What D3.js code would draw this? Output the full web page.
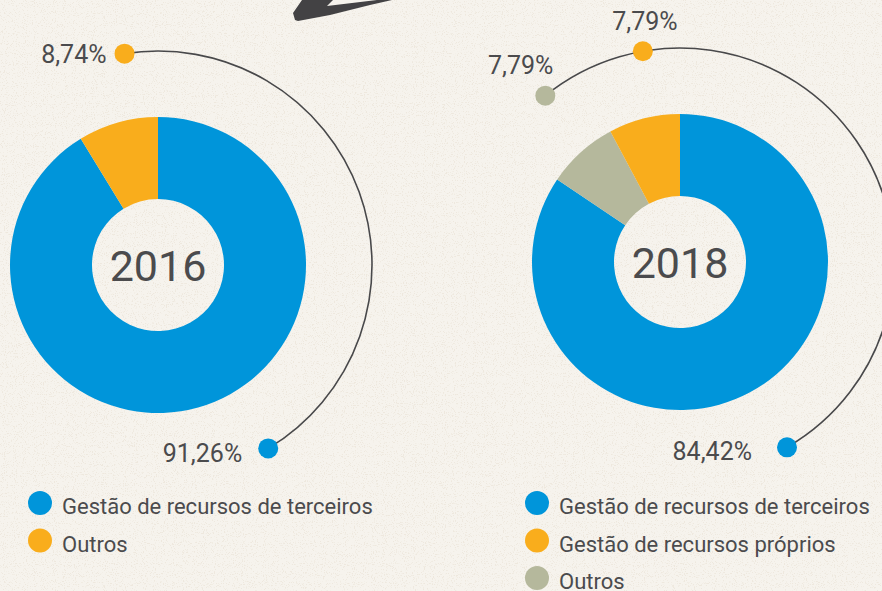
<!DOCTYPE html>
<html lang="pt">
<head>
<meta charset="UTF-8">
<title>Gestão de recursos 2016 / 2018</title>
<script src="https://d3js.org/d3.v7.min.js"></script>
<style>
  html, body { margin: 0; padding: 0; background: #f6f3ed; }
  svg { display: block; font-family: Roboto, "Open Sans", sans-serif; }
</style>
</head>
<body>
<svg id="chart" width="882" height="591"></svg>
<script>
// data
const years = ["2016", "2018"];
const categories2016 = ["Gestão de recursos de terceiros", "Outros"];
const values2016 = [91.26, 8.74];
const categories2018 = ["Gestão de recursos de terceiros", "Gestão de recursos próprios", "Outros"];
const values2018 = [84.42, 7.79, 7.79];
const labels2016 = ["91,26%", "8,74%"];
const labels2018 = ["84,42%", "7,79%", "7,79%"];

const colorOf = {
  "Gestão de recursos de terceiros": "#0095da",
  "Gestão de recursos próprios": "#f9ad1c",
  "Outros2016": "#f9ad1c",
  "Outros2018": "#b5b89c"
};

const svg = d3.select("#chart");
const W = 882, H = 591;
const bg = "#f6f3ed";

// paper texture: sparse brownish specks
const defs = svg.append("defs");
const f = defs.append("filter").attr("id", "paper").attr("x", 0).attr("y", 0).attr("width", "100%").attr("height", "100%");
f.append("feTurbulence").attr("type", "fractalNoise").attr("baseFrequency", 0.9).attr("numOctaves", 2).attr("seed", 7).attr("result", "n");
f.append("feColorMatrix").attr("in", "n").attr("type", "matrix")
  .attr("values", "0 0 0 0 0.6  0 0 0 0 0.5  0 0 0 0 0.35  0 0 0 -8 3.4");
svg.append("rect").attr("width", W).attr("height", H).attr("fill", bg);
svg.append("rect").attr("width", W).attr("height", H).attr("filter", "url(#paper)").attr("opacity", 0.18);

// decorative arrow piece at the top
svg.append("path")
  .attr("d", "M302,0 L293,13 L295,20 L298,21 L330,15 L370,5 L392,0 Z")
  .attr("fill", "#434244");
svg.append("path")
  .attr("d", "M327,6 L333,0 L377,0 Z")
  .attr("fill", bg);

const textColor = "#4b4b4d";

// layout per chart (angles in degrees clockwise from top)
const charts = [
  {
    year: years[0], cats: categories2016, vals: values2016, labels: labels2016, key: "2016",
    cx: 158, cy: 265,
    callouts: [
      { angle: 149, anchor: "end", dx: -26, dy: 14 },
      { angle: -9, anchor: "end", dx: -18, dy: 9 }
    ],
    legendX: 40
  },
  {
    year: years[1], cats: categories2018, vals: values2018, labels: labels2018, key: "2018",
    cx: 680, cy: 262,
    callouts: [
      { angle: 150, anchor: "end", dx: -35, dy: 13 },
      { angle: -10, anchor: "middle", dx: 2, dy: -21 },
      { angle: -39, anchor: "end", dx: 8, dy: -22 }
    ],
    legendX: 537
  }
];

const outerR = 148, innerR = 66, calloutR = 214, dotR = 10;

charts.forEach(c => {
  const color = name => name === "Outros" ? colorOf["Outros" + c.key] : colorOf[name];
  const rows = c.cats.map((name, i) => ({ name, value: c.vals[i], label: c.labels[i], co: c.callouts[i] }));

  // first slice clockwise from top, remaining ones counter-clockwise ending at top
  const pie = d3.pie().sort(null).value(d => d.value)
    .startAngle(0).endAngle(2 * Math.PI);
  const ordered = [rows[0]].concat(rows.slice(1).reverse());
  const arcs = pie(ordered);
  const arc = d3.arc().innerRadius(innerR).outerRadius(outerR);

  const g = svg.append("g").attr("transform", `translate(${c.cx},${c.cy})`);
  g.selectAll("path.slice").data(arcs).enter().append("path")
    .attr("class", "slice")
    .attr("d", arc)
    .attr("fill", d => color(d.data.name));

  g.append("text")
    .attr("text-anchor", "middle")
    .attr("y", 16)
    .attr("fill", textColor)
    .style("font-size", "43px")
    .text(c.year);

  // callout line
  const angles = rows.map(r => r.co.angle * Math.PI / 180);
  const lineArc = d3.arc().innerRadius(calloutR).outerRadius(calloutR)
    .startAngle(d3.min(angles)).endAngle(d3.max(angles));
  g.append("path")
    .attr("d", lineArc())
    .attr("fill", "none")
    .attr("stroke", "#48484a")
    .attr("stroke-width", 1.6);

  const pos = a => [calloutR * Math.sin(a), -calloutR * Math.cos(a)];
  rows.forEach(r => {
    const [x, y] = pos(r.co.angle * Math.PI / 180);
    g.append("circle").attr("cx", x).attr("cy", y).attr("r", dotR).attr("fill", color(r.name));
    g.append("text")
      .attr("x", x + r.co.dx).attr("y", y + r.co.dy)
      .attr("text-anchor", r.co.anchor)
      .attr("fill", textColor)
      .style("font-size", "25px")
      .text(r.label);
  });

  // legend
  const y = d3.scalePoint().domain(c.cats).range([503, 503 + 37.5 * (c.cats.length - 1)]);
  const lg = svg.append("g");
  lg.selectAll("circle").data(c.cats).enter().append("circle")
    .attr("cx", c.legendX).attr("cy", d => y(d)).attr("r", 12)
    .attr("fill", d => color(d));
  lg.selectAll("text").data(c.cats).enter().append("text")
    .attr("x", c.legendX + 22).attr("y", d => y(d) + 11)
    .attr("fill", textColor)
    .style("font-size", "22px")
    .text(d => d);
});
</script>
</body>
</html>
